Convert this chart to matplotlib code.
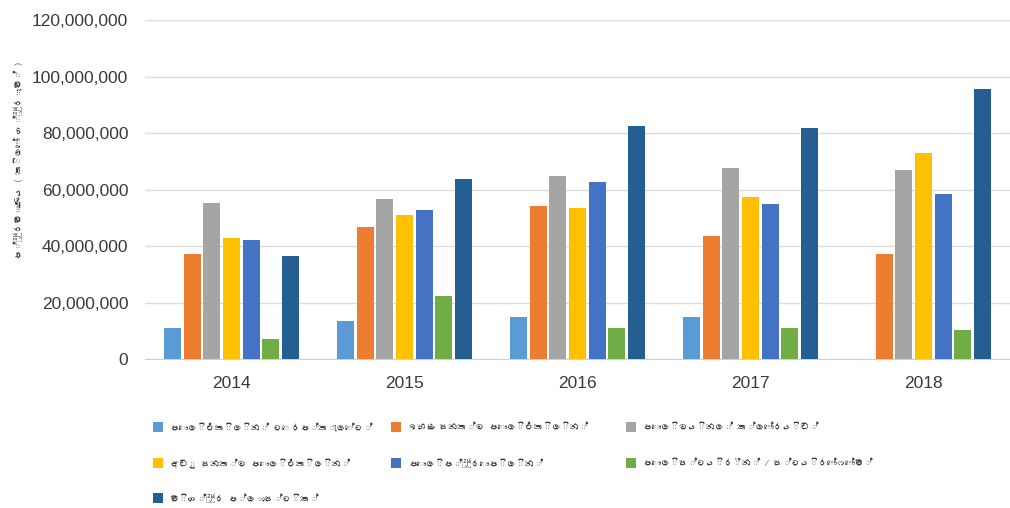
import numpy as np
import matplotlib
matplotlib.use("Agg")
import matplotlib.pyplot as plt
from matplotlib import font_manager as fm
from matplotlib.ft2font import FT2Font
from matplotlib.patches import Rectangle
from matplotlib.ticker import FuncFormatter

years = ["2014", "2015", "2016", "2017", "2018"]

# kilograms per year for each plastic type
pet = [11.0e6, 13.5e6, 14.9e6, 15.0e6, 0]
hdpe = [37.2e6, 46.7e6, 54.2e6, 43.5e6, 37.2e6]
pvc = [55.2e6, 56.6e6, 64.8e6, 67.7e6, 66.9e6]
ldpe = [42.8e6, 51.0e6, 53.5e6, 57.5e6, 73.0e6]
pp = [42.1e6, 52.7e6, 62.7e6, 54.9e6, 58.3e6]
ps = [7.1e6, 22.3e6, 11.0e6, 11.1e6, 10.3e6]
mixed = [36.5e6, 63.7e6, 82.5e6, 81.9e6, 95.5e6]

labels = [
    "පොලිඑතිලින් ටෙරප්තැලේට්",
    "ඉහළ ඝනත්ව පොලිඑතිලින්",
    "පොලිවයිනල් ක්ලෝරයිඩ්",
    "අඩු ඝනත්ව පොලිඑතිලින්",
    "පොලිප්‍රොපිලින්",
    "පොලිස්ටයිරීන් / ස්ටයිරෝෆෝම්",
    "මිශ්‍ර ප්ලාස්ටික්",
]
ylabel = "ප්‍රමාණය ( කිලෝ ග්‍රෑම් )"

series = [pet, hdpe, pvc, ldpe, pp, ps, mixed]
colors = ["#5b9bd5", "#ed7d31", "#a5a5a5", "#ffc000", "#4472c4", "#70ad47", "#255e91"]


def sinhala_font():
    # look for any installed face that has Sinhala glyphs
    for path in fm.findSystemFonts():
        try:
            if 0x0DB4 in FT2Font(path).get_charmap():
                return fm.FontProperties(fname=path).get_name()
        except Exception:
            pass
    return None


sin = sinhala_font()
fam = ([sin] if sin else []) + ["Liberation Sans", "DejaVu Sans"]
plt.rcParams["font.family"] = ["Liberation Sans", "DejaVu Sans"]

W, H = 1010, 508
fig = plt.figure(figsize=(W / 100, H / 100), dpi=100)
ax = fig.add_axes([0.1436, 0.2933, 0.8564, 0.6673])

x = np.arange(len(years))
slot = 0.114
bw = 0.098
for i, (vals, c) in enumerate(zip(series, colors)):
    off = (i - 3) * slot
    ax.bar(x + off, vals, width=bw, color=c, zorder=3)

ax.set_xlim(-0.5, 4.5)
ax.set_ylim(0, 120e6)
ax.set_yticks(np.arange(0, 120e6 + 1, 20e6))
ax.yaxis.set_major_formatter(FuncFormatter(lambda v, p: f"{int(v):,}"))
ax.set_xticks(x)
ax.set_xticklabels(years)
ax.grid(axis="y", color="#dcdcdc", linewidth=1, zorder=0)
for s in ["top", "right", "left"]:
    ax.spines[s].set_visible(False)
ax.spines["bottom"].set_color("#d0d0d0")
ax.tick_params(axis="both", length=0, labelsize=12.5, colors="#3a3a3a")
ax.tick_params(axis="y", pad=12)
ax.tick_params(axis="x", pad=12)

fig.text(18 / W, 1 - 160 / H, ylabel, rotation=90, ha="center", va="center",
         fontsize=6.5, color="#3a3a3a", family=fam)

# legend: three columns filled row by row, placed by hand in pixels
mark_x = [153, 391, 626]
row_y = [427, 463, 498]
for k, lab in enumerate(labels):
    r, c = divmod(k, 3)
    mx, my = mark_x[c], row_y[r]
    fig.patches.append(Rectangle((mx / W, 1 - (my + 5) / H), 10 / W, 10 / H,
                                 facecolor=colors[k], edgecolor="none",
                                 transform=fig.transFigure, figure=fig))
    fig.text((mx + 17) / W, 1 - my / H, lab, ha="left", va="center",
             fontsize=6.5, color="#3a3a3a", family=fam)

fig.savefig("out.png", dpi=100)
